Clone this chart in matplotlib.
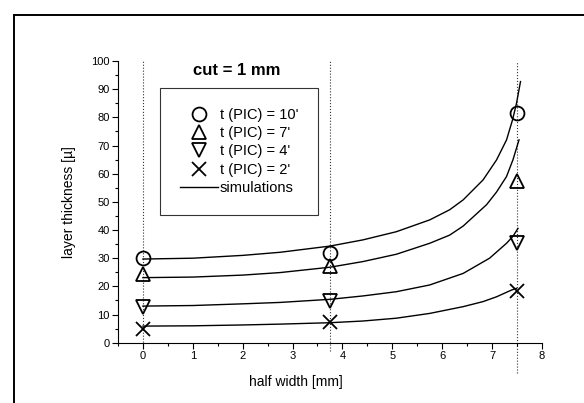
import matplotlib
matplotlib.use('Agg')
from matplotlib import pyplot as plt
from matplotlib.lines import Line2D

plt.rcParams['font.family'] = ['Liberation Sans', 'DejaVu Sans']

# measured points (half width in mm, layer thickness in micron)
x_meas = [0, 3.75, 7.5]
t10 = [30, 32, 81.5]
t7 = [24.4, 27.3, 57.4]
t4 = [12.8, 14.8, 35.5]
t2 = [4.8, 7.5, 18.5]

# simulation curves
sim_x10 = [0, 1, 2, 2.75, 3.75, 4.41, 5.08, 5.75, 6.15, 6.42, 6.82, 7.09, 7.29, 7.41, 7.49, 7.57]
sim_y10 = [29.7, 30.0, 31.0, 32.1, 34.3, 36.5, 39.4, 43.6, 47.2, 50.7, 57.8, 64.9, 72.0, 79.1, 85.0, 92.7]
sim_x7 = [0, 1, 2, 2.75, 3.75, 4.41, 5.08, 5.75, 6.15, 6.42, 6.89, 7.09, 7.29, 7.42, 7.54]
sim_y7 = [23.1, 23.3, 24.0, 24.9, 26.8, 28.8, 31.4, 35.3, 38.2, 41.4, 49.0, 53.5, 59.0, 65.0, 72.0]
sim_x4 = [0, 1, 2, 2.75, 3.75, 4.41, 5.08, 5.75, 6.42, 6.95, 7.29, 7.42, 7.52]
sim_y4 = [13.0, 13.2, 13.8, 14.3, 15.4, 16.6, 18.1, 20.5, 24.6, 30.0, 35.3, 37.8, 40.6]
sim_x2 = [0, 1, 2, 2.75, 3.75, 4.41, 5.08, 5.75, 6.42, 6.82, 7.09, 7.39, 7.49]
sim_y2 = [5.9, 6.0, 6.3, 6.6, 7.1, 7.7, 8.7, 10.4, 12.8, 14.6, 16.3, 18.7, 19.3]

guide_x = [0, 3.75, 7.5]
guide_bottom = [-2, -3, -10.7]

labels = ["t (PIC) = 10'", "t (PIC) = 7'", "t (PIC) = 4'", "t (PIC) = 2'"]
markers = ['o', '^', 'v', 'x']

fig = plt.figure(figsize=(5.84, 4.03), dpi=100)
ax = fig.add_axes([0.202, 0.1496, 0.726, 0.699])

# outer frame (only left and top edge visible)
fig.add_artist(Line2D([0.0235, 0.0235], [0, 0.963], color='black', lw=1.4))
fig.add_artist(Line2D([0.0235, 1], [0.963, 0.963], color='black', lw=1.4))

for gx, gb in zip(guide_x, guide_bottom):
    ax.plot([gx, gx], [gb, 100], ls=':', color='#333333', lw=0.8, clip_on=False, zorder=1)

handles = []
for y, m, lab in zip([t10, t7, t4, t2], markers, labels):
    h, = ax.plot(x_meas, y, ls='none', marker=m, ms=10, mfc='none', mec='black',
                 mew=1.3, label=lab, clip_on=False, zorder=3)
    handles.append(h)

for sx, sy in [(sim_x10, sim_y10), (sim_x7, sim_y7), (sim_x4, sim_y4), (sim_x2, sim_y2)]:
    sim, = ax.plot(sx, sy, color='black', lw=1.0, clip_on=False, zorder=2, label='simulations')
handles.append(sim)

ax.set_xlim(-0.5, 8)
ax.set_ylim(0, 100)
ax.set_xticks(range(0, 9))
ax.set_xticks([i + 0.5 for i in range(-1, 8)], minor=True)
ax.set_yticks(range(0, 101, 10))
ax.set_yticks(range(5, 100, 10), minor=True)
for s in ['top', 'right']:
    ax.spines[s].set_visible(False)
ax.tick_params(which='major', direction='out', length=4, width=0.8, labelsize=8, pad=2)
ax.tick_params(which='minor', direction='out', length=2.5, width=0.8)

ax.set_xlabel('half width [mm]', fontsize=10)
ax.xaxis.set_label_coords(0.42, -0.115)
ax.set_ylabel('layer thickness [µ]', fontsize=10)
ax.yaxis.set_label_coords(-0.1, 0.5)

ax.text(0.281, 0.968, 'cut = 1 mm', transform=ax.transAxes, ha='center', va='center',
        fontsize=12, fontweight='bold')

leg = ax.legend(handles=handles, loc='upper left', bbox_to_anchor=(0.099, 0.904),
                borderaxespad=0, fontsize=10.5, handlelength=2.6, handletextpad=0.15,
                labelspacing=0.3, fancybox=False, frameon=True, borderpad=1.35)
leg.get_frame().set_edgecolor('black')
leg.get_frame().set_linewidth(0.8)

fig.savefig('out.png', dpi=100)
